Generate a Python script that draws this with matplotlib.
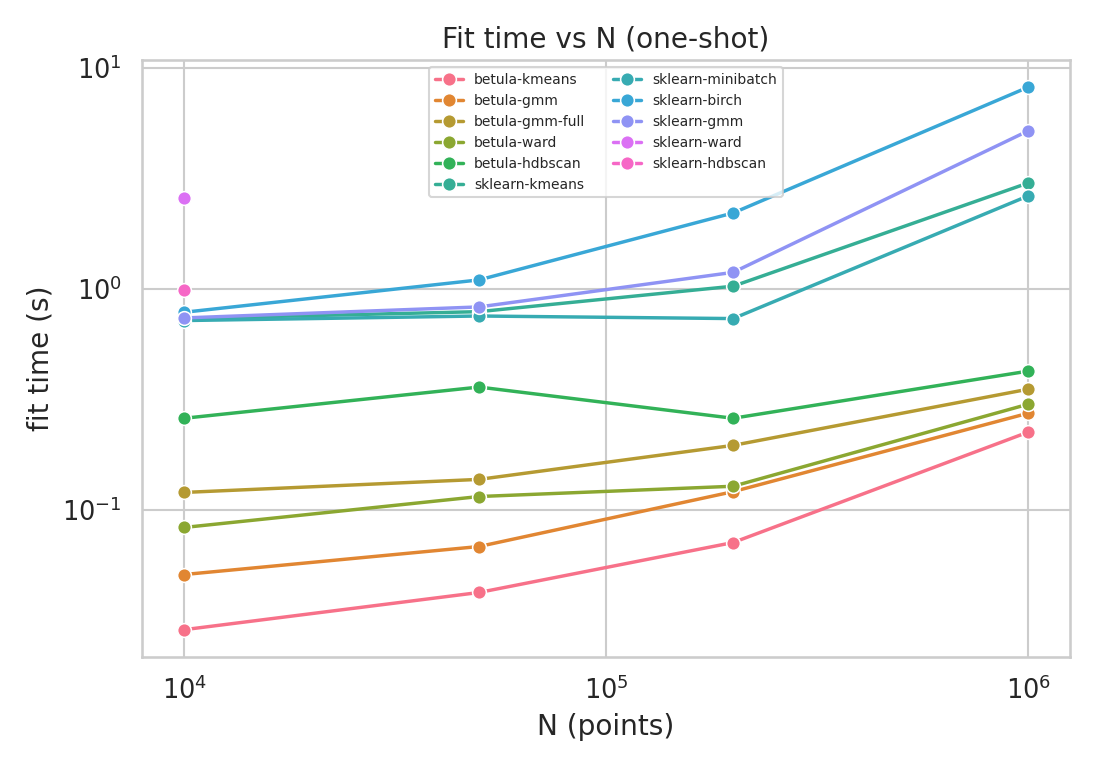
import numpy as np
import pandas as pd
import matplotlib
matplotlib.use("Agg")
import matplotlib.pyplot as plt
import seaborn as sns

# one-shot fit times (seconds)
n_points = [10000, 50000, 200000, 1000000]
methods = [
    "betula-kmeans", "betula-gmm", "betula-gmm-full", "betula-ward",
    "betula-hdbscan", "sklearn-kmeans", "sklearn-minibatch", "sklearn-birch",
    "sklearn-gmm", "sklearn-ward", "sklearn-hdbscan",
]
betula_kmeans = [0.0287, 0.0423, 0.0712, 0.225]
betula_gmm = [0.051, 0.0683, 0.121, 0.274]
betula_gmm_full = [0.120, 0.1375, 0.196, 0.352]
betula_ward = [0.0833, 0.115, 0.128, 0.301]
betula_hdbscan = [0.260, 0.360, 0.260, 0.425]
sklearn_kmeans = [0.735, 0.79, 1.03, 3.02]
sklearn_minibatch = [0.72, 0.755, 0.735, 2.64]
sklearn_birch = [0.785, 1.10, 2.21, 8.2]
sklearn_gmm = [0.74, 0.83, 1.19, 5.2]
sklearn_ward = [2.59, np.nan, np.nan, np.nan]
sklearn_hdbscan = [0.99, np.nan, np.nan, np.nan]

times = [betula_kmeans, betula_gmm, betula_gmm_full, betula_ward, betula_hdbscan,
         sklearn_kmeans, sklearn_minibatch, sklearn_birch, sklearn_gmm,
         sklearn_ward, sklearn_hdbscan]

rows = []
for m, t in zip(methods, times):
    for n, v in zip(n_points, t):
        rows.append({"method": m, "N": n, "fit_s": v})
df = pd.DataFrame(rows).dropna()

sns.set_theme(style="whitegrid", context="notebook", font_scale=1.12)
dpi = 150
fig, ax = plt.subplots(figsize=(1100 / dpi, 770 / dpi), dpi=dpi)
fig.subplots_adjust(left=0.129, right=0.973, top=0.922, bottom=0.147)

sns.lineplot(data=df, x="N", y="fit_s", hue="method", hue_order=methods,
             palette=sns.color_palette("husl", len(methods)), marker="o",
             markersize=6.6, linewidth=1.65, ax=ax)
ax.set_xscale("log")
ax.set_yscale("log")
ax.set_title("Fit time vs N (one-shot)")
ax.set_xlabel("N (points)")
ax.set_ylabel("fit time (s)")
ax.legend(ncol=2, fontsize=6.7, loc="upper center")

fig.savefig("out.png", dpi=dpi)
